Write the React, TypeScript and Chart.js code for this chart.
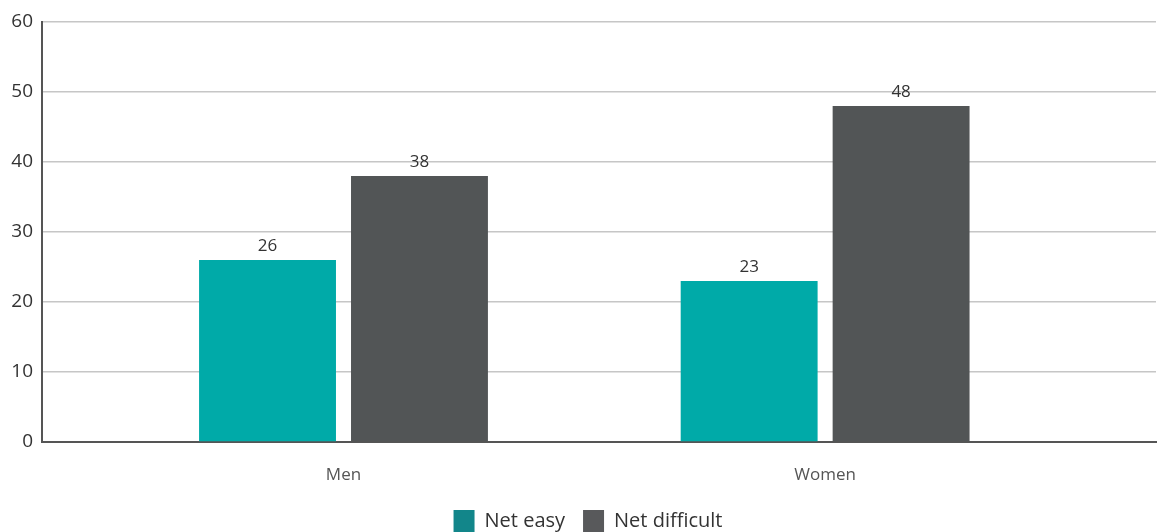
import React, { useEffect, useRef } from "react";
import { Chart, registerables } from "chart.js";

Chart.register(...registerables);

const categories = ["Men", "Women"];
const seriesNames = ["Net easy", "Net difficult"];
const netEasy = [26, 23];
const netDifficult = [38, 48];
const yTicks = [0, 10, 20, 30, 40, 50, 60];

const FONT = "'Open Sans', 'DejaVu Sans', sans-serif";

const barColors = ["#00aaa8", "#525556"];
const legendColors = ["#12868a", "#58595b"];

const valueLabels = {
  id: "valueLabels",
  afterDatasetsDraw(chart: any) {
    const ctx = chart.ctx;
    ctx.save();
    ctx.font = `17px ${FONT}`;
    ctx.fillStyle = "#333333";
    ctx.textAlign = "center";
    ctx.textBaseline = "bottom";
    chart.data.datasets.forEach((ds: any, i: number) => {
      const meta = chart.getDatasetMeta(i);
      meta.data.forEach((el: any, j: number) => {
        const v = ds.data[j].y;
        ctx.fillText(String(v), el.x, el.y - 5);
      });
    });
    ctx.restore();
  },
};

const legendShift = {
  id: "legendShift",
  afterLayout(chart: any) {
    const l = chart.legend;
    if (l) {
      l.left += 10;
      l.right += 10;
    }
  },
};

export default function App() {
  const ref = useRef<HTMLCanvasElement | null>(null);

  useEffect(() => {
    if (!ref.current) return;
    const toPoints = (vals: number[]) => vals.map((v, i) => ({ x: i, y: v }));
    const chart = new Chart(ref.current, {
      type: "bar",
      data: {
        datasets: [
          {
            label: seriesNames[0],
            data: toPoints(netEasy),
            backgroundColor: barColors[0],
            categoryPercentage: 0.631,
            barPercentage: 0.901,
          },
          {
            label: seriesNames[1],
            data: toPoints(netDifficult),
            backgroundColor: barColors[1],
            categoryPercentage: 0.631,
            barPercentage: 0.901,
          },
        ] as any,
      },
      plugins: [valueLabels, legendShift],
      options: {
        animation: false,
        responsive: false,
        maintainAspectRatio: false,
        layout: { padding: { top: 22, right: 4, left: 0, bottom: -10 } },
        plugins: {
          tooltip: { enabled: false },
          legend: {
            position: "bottom",
            labels: {
              boxWidth: 21,
              boxHeight: 22,
              padding: 18,
              color: "#333333",
              font: { family: FONT, size: 20 },
              generateLabels: () =>
                seriesNames.map((n, i) => ({
                  text: n,
                  fillStyle: legendColors[i],
                  strokeStyle: legendColors[i],
                  lineWidth: 0,
                  datasetIndex: i,
                  fontColor: "#333333",
                })),
            },
          },
        },
        scales: {
          x: {
            type: "linear",
            min: -0.626,
            max: 1.687,
            offset: false,
            afterBuildTicks: (scale: any) => {
              scale.ticks = categories.map((_, i) => ({ value: i }));
            },
            afterFit: (scale: any) => {
              scale.height = 50;
            },
            grid: { display: false, drawTicks: false },
            border: { display: true, color: "#555555", width: 2 },
            ticks: {
              autoSkip: false,
              maxRotation: 0,
              padding: 23,
              color: "#555555",
              font: { family: FONT, size: 17 },
              callback: (v: any) => categories[Number(v)] ?? "",
            },
          },
          y: {
            min: 0,
            max: 60,
            afterBuildTicks: (scale: any) => {
              scale.ticks = yTicks.map((v) => ({ value: v }));
            },
            afterFit: (scale: any) => {
              scale.width = 42;
            },
            grid: { color: "#c6c6c6", lineWidth: 1.5, drawTicks: false },
            border: { display: true, color: "#555555", width: 2 },
            ticks: {
              padding: 9,
              color: "#333333",
              font: { family: FONT, size: 19 },
            },
          },
        },
      } as any,
    });
    return () => chart.destroy();
  }, []);

  return (
    <div style={{ position: "fixed", left: 0, top: 0, width: 1160, height: 532, background: "#fff" }}>
      <canvas ref={ref} width={1160} height={532} style={{ width: 1160, height: 532 }} />
    </div>
  );
}
